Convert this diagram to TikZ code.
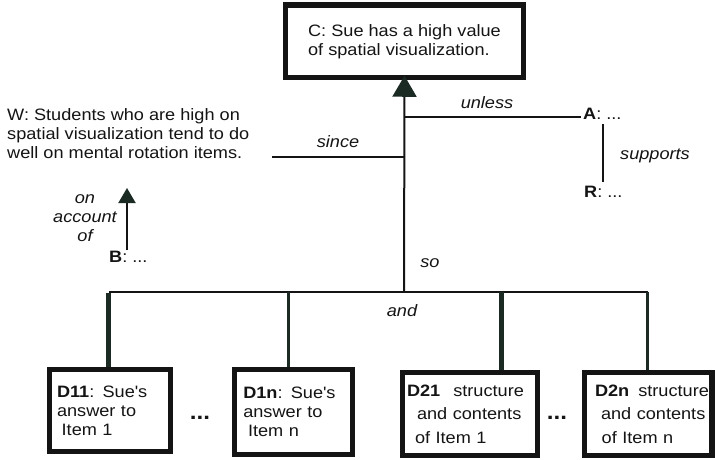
\documentclass[tikz,border=0pt]{standalone}
\usepackage{fontspec}
\setmainfont{Liberation Sans}[FakeStretch=1.1]
\usetikzlibrary{arrows.meta}
\definecolor{ink}{RGB}{20,20,20}
\definecolor{dropc}{RGB}{28,42,36}
\newcommand{\apos}{\textquotesingle}
\begin{document}
\begin{tikzpicture}[x=1pt,y=-1pt,
  every node/.style={text=ink},
  txt/.style={font=\fontsize{16.5}{19}\selectfont, align=left, inner sep=0pt},
  lbl/.style={font=\fontsize{16.5}{19}\selectfont\itshape, inner sep=0pt},
  cbox/.style={draw=ink, line width=5.5pt, font=\fontsize{16.5}{19}\selectfont, align=left},
  dbox/.style={draw=ink, line width=5.5pt, font=\fontsize{16.5}{19}\selectfont, align=left, inner ysep=0pt},
  widebox/.style={dbox, font=\fontsize{16.5}{23.5}\selectfont},
  link/.style={draw=ink, line width=2pt},
  dropline/.style={draw=dropc},
  dotsep/.style={font=\fontsize{22}{22}\selectfont\bfseries, inner sep=0pt},
  bigtip/.style={-{Triangle[length=21pt,width=24pt,color=dropc]}},
  smalltip/.style={-{Triangle[length=15pt,width=17pt,color=dropc]}}]
\useasboundingbox (0,0) rectangle (715,459);

% claim
\node[cbox, minimum width=238pt, minimum height=72.5pt] (c) at (404.5,41.25)
  {C: Sue has a high value\\of spatial visualization.};

% warrant, backing, alternative, rebuttal
\node[txt, anchor=north west] (w) at (7,108)
  {W: Students who are high on\\spatial visualization tend to do\\well on mental rotation items.};
\node[txt, anchor=base west, inner xsep=2pt, inner ysep=5pt] (a) at (581,119) {\textbf{A}: ...};
\node[txt, anchor=base west, inner xsep=2pt, inner ysep=3pt] (r) at (582,197) {\textbf{R}: ...};
\node[txt, anchor=base west, inner xsep=2pt] (b) at (107,262) {\textbf{B}: ...};

% data boxes
\node[dbox, minimum width=121pt, minimum height=82pt, text width=106pt, inner xsep=7.5pt]
  (d11) at (110,410.5) {\mbox{\textbf{D11}: Sue\apos s}\\\mbox{answer to}\\\mbox{\hspace*{4.7pt}Item 1}};
\node[dbox, minimum width=118pt, minimum height=85pt, text width=100.4pt, inner xsep=8.8pt]
  (d1n) at (293.5,412) {\mbox{\textbf{D1n}: Sue\apos s}\\\mbox{answer to}\\\mbox{\hspace*{4.7pt}Item n}};
\node[widebox, minimum width=135pt, minimum height=83pt, text width=126pt, inner xsep=4.5pt]
  (d21) at (470,414) {\mbox{\textbf{D21}\hspace{13pt}structure}\\\mbox{\hspace*{10pt}and contents}\\\mbox{\hspace*{8pt}of Item 1}};
\node[widebox, minimum width=127.5pt, minimum height=83pt, text width=106.5pt, inner xsep=10.5pt]
  (d2n) at (648.25,414) {\mbox{\textbf{D2n}\hspace{9pt}structure}\\\mbox{\hspace*{6pt}and contents}\\\mbox{\hspace*{6.7pt}of Item n}};
\node[dotsep, anchor=base] (e1) at (200,419.5) {...};
\node[dotsep, anchor=base] (e2) at (557,419.5) {...};

% junction points
\coordinate (b1) at (108.5,292);
\coordinate (b2) at (288,292);
\coordinate (bs) at (404,292);
\coordinate (b3) at (501.5,292);
\coordinate (b4) at (647.5,292);
\coordinate (j1) at (404,117);
\coordinate (j2) at (404,157);
\coordinate (sw) at (272,157);
\coordinate (onacc) at (127,188);

% connectors
\draw[link, bigtip, shorten >=-4.5pt] (bs) -- (c.south);
\draw[link] (j1) -- (j1 -| a.west);
\draw[link] (sw) -- (j2);
\draw[link] (a.south -| 603,0) -- (r.north -| 603,0);
\draw[link, smalltip] (b.north -| onacc) -- (onacc);
\draw[link] (b1) -- (b4);
\draw[dropline, line width=4.5pt] ([yshift=-1pt]b1) -- (b1 |- d11.north);
\draw[dropline, line width=3pt] (b2) -- (b2 |- d1n.north);
\draw[dropline, line width=4.5pt] (b3) -- (b3 |- d21.north);
\draw[dropline, line width=3.5pt] (b4) -- (b4 |- d2n.north);

% connector labels
\node[lbl, anchor=base] (lunless) at (487,108) {unless};
\node[lbl, anchor=base] (lsince) at (338,147) {since};
\node[lbl, anchor=base] (lso) at (430,267) {so};
\node[lbl, anchor=base] (land) at (402,316) {and};
\node[lbl, anchor=base west] (lsup) at (620,159) {supports};
\node[lbl, align=center, anchor=north] (lacc) at (85,194.5) {on\\account\\of};
\end{tikzpicture}
\end{document}
